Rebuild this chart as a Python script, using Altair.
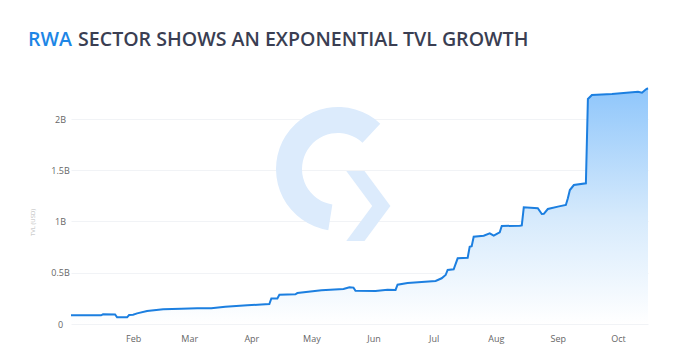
import math
import altair as alt
import pandas as pd

# ---- data ----
dates = [
    "2023-01-01", "2023-01-16", "2023-01-17", "2023-01-23", "2023-01-24", "2023-01-29",
    "2023-01-30", "2023-02-01", "2023-02-03", "2023-02-08", "2023-02-16", "2023-02-25",
    "2023-03-05", "2023-03-12", "2023-03-19", "2023-03-30", "2023-04-06", "2023-04-10",
    "2023-04-11", "2023-04-14", "2023-04-15", "2023-04-23", "2023-04-24", "2023-05-06",
    "2023-05-17", "2023-05-20", "2023-05-22", "2023-05-23", "2023-06-02", "2023-06-08",
    "2023-06-12", "2023-06-13", "2023-06-18", "2023-06-25", "2023-07-02", "2023-07-05",
    "2023-07-07", "2023-07-08", "2023-07-11", "2023-07-13", "2023-07-18", "2023-07-19",
    "2023-07-20", "2023-07-21", "2023-07-26", "2023-07-29", "2023-07-31", "2023-08-02",
    "2023-08-03", "2023-08-04", "2023-08-13", "2023-08-14", "2023-08-15", "2023-08-22",
    "2023-08-24", "2023-08-25", "2023-08-27", "2023-09-01", "2023-09-05", "2023-09-06",
    "2023-09-07", "2023-09-09", "2023-09-15", "2023-09-16", "2023-09-18", "2023-09-28",
    "2023-10-11", "2023-10-13", "2023-10-15", "2023-10-16",
]
tvl_billion = [
    0.085, 0.085, 0.095, 0.093, 0.065, 0.065,
    0.088, 0.090, 0.104, 0.127, 0.143, 0.148,
    0.153, 0.153, 0.169, 0.182, 0.190, 0.195,
    0.250, 0.250, 0.286, 0.290, 0.302, 0.330,
    0.341, 0.358, 0.355, 0.325, 0.322, 0.335,
    0.332, 0.384, 0.400, 0.410, 0.420, 0.446,
    0.478, 0.527, 0.533, 0.641, 0.647, 0.754,
    0.760, 0.852, 0.862, 0.885, 0.862, 0.885,
    0.894, 0.956, 0.959, 0.962, 1.138, 1.129,
    1.073, 1.075, 1.122, 1.145, 1.161, 1.226,
    1.307, 1.356, 1.373, 2.195, 2.234, 2.244,
    2.266, 2.257, 2.290, 2.300,
]
month_ticks = ["Feb", "Mar", "Apr", "May", "Jun", "Jul", "Aug", "Sep", "Oct"]
y_ticks = [0, 0.5e9, 1e9, 1.5e9, 2e9]
title_accent = "RWA"
title_rest = "SECTOR SHOWS AN EXPONENTIAL TVL GROWTH"

df = pd.DataFrame({
    "date": [d + "T00:00:00" for d in dates],
    "tvl": [v * 1e9 for v in tvl_billion],
})

FONT = "Open Sans"
W, H = 577, 246

x_enc = alt.X(
    "date:T",
    scale=alt.Scale(domain=[alt.DateTime(year=2023, month=1, date=1),
                            alt.DateTime(year=2023, month=10, date=16)]),
    axis=alt.Axis(
        title=None, format="%b", grid=False, domain=False, ticks=False,
        values=[alt.DateTime(year=2023, month=m, date=1) for m in month_ticks],
        labelFont=FONT, labelFontSize=9, labelColor="#666666", labelPadding=10,
    ),
)
y_enc = alt.Y(
    "tvl:Q",
    scale=alt.Scale(domain=[0, 2.4e9], nice=False),
    axis=alt.Axis(
        title="TVL (USD)", values=y_ticks,
        labelExpr="datum.value == 0 ? '0' : format(datum.value / 1e9, '~g') + 'B'",
        grid=True, gridColor="#f1f3f6", gridWidth=1, domain=False, ticks=False,
        labelFont=FONT, labelFontSize=9, labelColor="#666666",
        labelAlign="center", labelPadding=11,
        titleFont=FONT, titleFontSize=6, titleFontWeight="normal",
        titleColor="#bbbbbb", titleX=-36, titleY=144,
    ),
)

base = alt.Chart(df)

area = base.mark_area(
    interpolate="linear",
    fill=alt.Gradient(
        gradient="linear",
        stops=[alt.GradientStop(color="#ffffff", offset=0),
               alt.GradientStop(color="#d6eafc", offset=0.45),
               alt.GradientStop(color="#8fc6fb", offset=1)],
        x1=1, x2=1, y1=1, y2=0,
    ),
).encode(x=x_enc, y=y_enc)

line = base.mark_line(color="#1c7fe0", strokeWidth=2, interpolate="linear").encode(
    x="date:T", y="tvl:Q"
)

# watermark logo (decoration)
logo_df = pd.DataFrame({"k": [0]})
logo_arc = alt.Chart(logo_df).mark_arc(color="#dcebfc").encode(
    x=alt.value(267), y=alt.value(91),
    radius=alt.value(62), radius2=alt.value(36),
    theta=alt.value(math.pi * 1.05), theta2=alt.value(2 * math.pi + 0.75),
)
logo_arrow = alt.Chart(logo_df).mark_point(
    shape="M -0.62 -1 L -0.1 -1 L 0.64 0 L -0.1 1 L -0.62 1 L 0.12 0 Z",
    filled=True, color="#dcebfc", opacity=1, size=4900, strokeWidth=0,
).encode(x=alt.value(297), y=alt.value(128))

title_a = alt.Chart(pd.DataFrame({"t": [title_accent]})).mark_text(
    align="right", baseline="alphabetic", font=FONT, fontSize=19.6, fontWeight=600,
    color="#1d86e6",
).encode(x=alt.value(1), y=alt.value(-32), text="t:N")
title_b = alt.Chart(pd.DataFrame({"t": [title_rest]})).mark_text(
    align="left", baseline="alphabetic", font=FONT, fontSize=19.6, fontWeight=600,
    color="#3a3e52",
).encode(x=alt.value(7), y=alt.value(-32), text="t:N")

chart = alt.layer(logo_arc, logo_arrow, area, line, title_a, title_b).properties(
    width=W, height=H,
    background="#ffffff",
    autosize=alt.AutoSizeParams(type="none"),
    padding={"left": 63, "top": 70, "right": 24, "bottom": 28},
).configure_view(strokeWidth=0, stroke="transparent")

chart.save("out.html", embed_options={"renderer": "svg", "actions": False})
